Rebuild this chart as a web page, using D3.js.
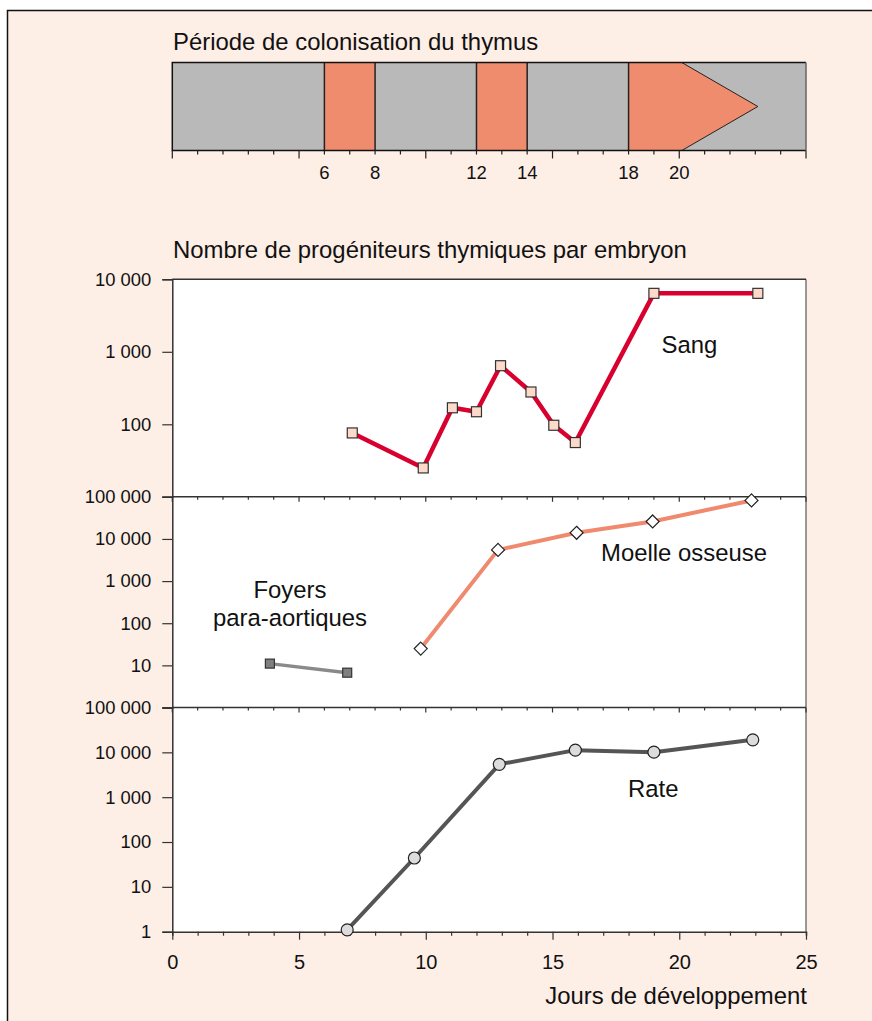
<!DOCTYPE html>
<html>
<head>
<meta charset="utf-8">
<script src="https://cdn.jsdelivr.net/npm/d3@7"></script>
<style>
  body { margin: 0; background: #fff; }
  text { font-family: "Liberation Sans", Arial, sans-serif; fill: #111; }
</style>
</head>
<body>
<div class="vis"></div>
<script>
// colonisation periods (days) and arrow tip of the last one
const periods = [[6, 8], [12, 14], [18, 20.1]];
const arrowTip = 23.1;
const bandLabels = [6, 8, 12, 14, 18, 20];

// progenitors per embryo
const sangDays = [7.1, 9.9, 11.05, 12.0, 12.95, 14.15, 15.05, 15.9, 19.0, 23.1];
const sangVals = [76, 25, 169, 149, 643, 279, 97, 56, 6400, 6400];
const foyersDays = [3.85, 6.9];
const foyersVals = [11, 6.7];
const moelleDays = [9.8, 12.85, 15.95, 18.95, 22.85];
const moelleVals = [25, 5500, 14000, 26000, 82000];
const rateDays = [6.9, 9.55, 12.9, 15.9, 19.0, 22.9];
const rateVals = [1.1, 44, 5400, 11200, 10100, 19000];

const W = 872, H = 1021;
const BIG = '23.9px';
const svg = d3.select('.vis').append('svg')
    .attr('width', W).attr('height', H);

// background frame
svg.append('rect').attr('x', 7.5).attr('y', 10.5).attr('width', W).attr('height', H)
    .attr('fill', '#fdeee6');
svg.append('path').attr('d', 'M7.5,' + H + 'V10.5H' + W)
    .attr('fill', 'none').attr('stroke', '#111').attr('stroke-width', 1.5);

const x = d3.scaleLinear().domain([0, 25]).range([172.3, 806]);
const fr = d3.formatLocale({ decimal: ',', thousands: ' ', grouping: [3], currency: ['', ''] });
const fmt = fr.format(',');

// ---- top band
const bTop = 62.5, bBot = 150.5, bMid = (bTop + bBot) / 2;
svg.append('text').attr('x', 173).attr('y', 50).style('font-size', BIG)
    .text('Période de colonisation du thymus');

svg.append('rect').attr('x', x(0)).attr('y', bTop).attr('width', x(25) - x(0)).attr('height', bBot - bTop)
    .attr('fill', '#b9b9b9');

periods.forEach(function (p, i) {
    const last = i === periods.length - 1;
    let pts = [[x(p[0]), bTop], [x(p[1]), bTop]];
    if (last) pts.push([x(arrowTip), bMid]);
    pts.push([x(p[1]), bBot], [x(p[0]), bBot]);
    svg.append('polygon').attr('points', pts.map(d => d.join(',')).join(' '))
        .attr('fill', '#f08c6e');
    if (last) {
        svg.append('polyline')
            .attr('points', [[x(p[1]), bTop], [x(arrowTip), bMid], [x(p[1]), bBot]].map(d => d.join(',')).join(' '))
            .attr('fill', 'none').attr('stroke', '#222').attr('stroke-width', 1);
    }
    svg.append('line').attr('x1', x(p[0])).attr('x2', x(p[0])).attr('y1', bTop).attr('y2', bBot)
        .attr('stroke', '#222').attr('stroke-width', 1.5);
    if (!last) {
        svg.append('line').attr('x1', x(p[1])).attr('x2', x(p[1])).attr('y1', bTop).attr('y2', bBot)
            .attr('stroke', '#222').attr('stroke-width', 1.5);
    }
});
svg.append('path').attr('d', 'M' + x(25) + ',' + bTop + 'H' + x(0) + 'V' + bBot + 'H' + x(25))
    .attr('fill', 'none').attr('stroke', '#111').attr('stroke-width', 1.5);
svg.append('line').attr('x1', x(25)).attr('x2', x(25)).attr('y1', bTop).attr('y2', bBot)
    .attr('stroke', '#666').attr('stroke-width', 1.5);

// band ticks
const bandAxis = svg.append('g').attr('transform', 'translate(0,' + bBot + ')');
bandAxis.selectAll('line').data(d3.range(0, 26)).enter().append('line')
    .attr('x1', d => x(d)).attr('x2', d => x(d))
    .attr('y1', 0).attr('y2', d => d % 5 === 0 ? 8 : 4)
    .attr('stroke', '#222').attr('stroke-width', 1.2);
bandAxis.selectAll('text').data(bandLabels).enter().append('text')
    .attr('x', d => x(d)).attr('y', 28).attr('text-anchor', 'middle')
    .style('font-size', '18.5px').text(d => d);

// ---- panels
svg.append('text').attr('x', 173).attr('y', 258).style('font-size', BIG)
    .text('Nombre de progéniteurs thymiques par embryon');

const panels = [
    { top: 279.3, bot: 496.8, domain: [10, 10000], ticks: [100, 1000, 10000] },
    { top: 496.8, bot: 707.5, domain: [1, 100000], ticks: [10, 100, 1000, 10000, 100000] },
    { top: 707.5, bot: 931.7, domain: [1, 100000], ticks: [1, 10, 100, 1000, 10000, 100000] }
];
panels.forEach(function (p) {
    p.y = d3.scaleLog().domain(p.domain).range([p.bot, p.top]);
    svg.append('rect').attr('x', x(0)).attr('y', p.top).attr('width', x(25) - x(0)).attr('height', p.bot - p.top)
        .attr('fill', '#fff');
});

panels.forEach(function (p, i) {
    // right border
    svg.append('line').attr('x1', x(25)).attr('x2', x(25)).attr('y1', p.top).attr('y2', p.bot)
        .attr('stroke', '#777').attr('stroke-width', 1.5);
    // top border with inward ticks (except first panel)
    svg.append('line').attr('x1', x(0)).attr('x2', x(25)).attr('y1', p.top).attr('y2', p.top)
        .attr('stroke', '#333').attr('stroke-width', 1.5);
    if (i > 0) {
        svg.append('g').selectAll('line').data(d3.range(0, 26)).enter().append('line')
            .attr('x1', d => x(d)).attr('x2', d => x(d))
            .attr('y1', p.top).attr('y2', d => p.top + (d % 5 === 0 ? 5 : 3))
            .attr('stroke', '#333').attr('stroke-width', 1.2);
    }
    // left axis
    const ax = d3.axisLeft(p.y).tickValues(p.ticks).tickFormat(fmt).tickSize(10).tickPadding(11);
    const g = svg.append('g').attr('transform', 'translate(' + x(0) + ',0)').call(ax);
    g.select('.domain').attr('stroke', '#333').attr('stroke-width', 1.5);
    g.selectAll('.tick line').attr('stroke', '#333').attr('stroke-width', 1.2);
    g.selectAll('.tick text').style('font-size', '18.4px').attr('fill', '#111')
        .style('font-family', '"Liberation Sans", Arial, sans-serif');
});

// bottom x axis
const xa = d3.axisBottom(x).tickValues(d3.range(0, 26)).tickSize(4).tickFormat(d => d % 5 === 0 ? d : '');
const gx = svg.append('g').attr('transform', 'translate(0,' + panels[2].bot + ')').call(xa);
gx.select('.domain').attr('stroke', '#333').attr('stroke-width', 1.5);
gx.selectAll('.tick line').attr('stroke', '#333').attr('stroke-width', 1.2)
    .attr('y2', d => d % 5 === 0 ? 8 : 4);
gx.selectAll('.tick text').attr('y', 23).attr('dy', '0.71em').style('font-size', '20px').attr('fill', '#111')
    .style('font-family', '"Liberation Sans", Arial, sans-serif');
svg.append('text').attr('x', 807).attr('y', 1004).attr('text-anchor', 'end').style('font-size', BIG)
    .text('Jours de développement');

// ---- series
function series(days, vals, p, color, width) {
    const pts = days.map((d, i) => [x(d), p.y(vals[i])]);
    svg.append('path').attr('d', d3.line()(pts)).attr('fill', 'none')
        .attr('stroke', color).attr('stroke-width', width).attr('stroke-linejoin', 'round');
    return pts;
}

const sangPts = series(sangDays, sangVals, panels[0], '#d8002f', 4.5);
svg.selectAll('.sq').data(sangPts).enter().append('rect')
    .attr('x', d => d[0] - 5).attr('y', d => d[1] - 5).attr('width', 10).attr('height', 10)
    .attr('fill', '#fcd9c8').attr('stroke', '#333').attr('stroke-width', 1.2);

const foyPts = series(foyersDays, foyersVals, panels[1], '#8a8a8a', 3.5);
svg.selectAll('.fq').data(foyPts).enter().append('rect')
    .attr('x', d => d[0] - 4.5).attr('y', d => d[1] - 4.5).attr('width', 9).attr('height', 9)
    .attr('fill', '#7f7f7f').attr('stroke', '#333').attr('stroke-width', 1.2);

const moPts = series(moelleDays, moelleVals, panels[1], '#f08a6e', 4);
svg.selectAll('.dm').data(moPts).enter().append('path')
    .attr('d', d => 'M' + d[0] + ',' + (d[1] - 6.5) + 'l6.5,6.5l-6.5,6.5l-6.5,-6.5z')
    .attr('fill', '#fff').attr('stroke', '#222').attr('stroke-width', 1.2);

const ratePts = series(rateDays, rateVals, panels[2], '#555', 4);
svg.selectAll('.ci').data(ratePts).enter().append('circle')
    .attr('cx', d => d[0]).attr('cy', d => d[1]).attr('r', 6)
    .attr('fill', '#dcdcdc').attr('stroke', '#222').attr('stroke-width', 1.2);

// labels
svg.append('text').attr('x', 661.5).attr('y', 353).style('font-size', BIG).text('Sang');
svg.append('text').attr('x', 601).attr('y', 561).style('font-size', BIG).text('Moelle osseuse');
svg.append('text').attr('x', 290).attr('y', 598).attr('text-anchor', 'middle').style('font-size', BIG).text('Foyers');
svg.append('text').attr('x', 290).attr('y', 626).attr('text-anchor', 'middle').style('font-size', BIG).text('para-aortiques');
svg.append('text').attr('x', 628).attr('y', 797).style('font-size', BIG).text('Rate');
</script>
</body>
</html>
